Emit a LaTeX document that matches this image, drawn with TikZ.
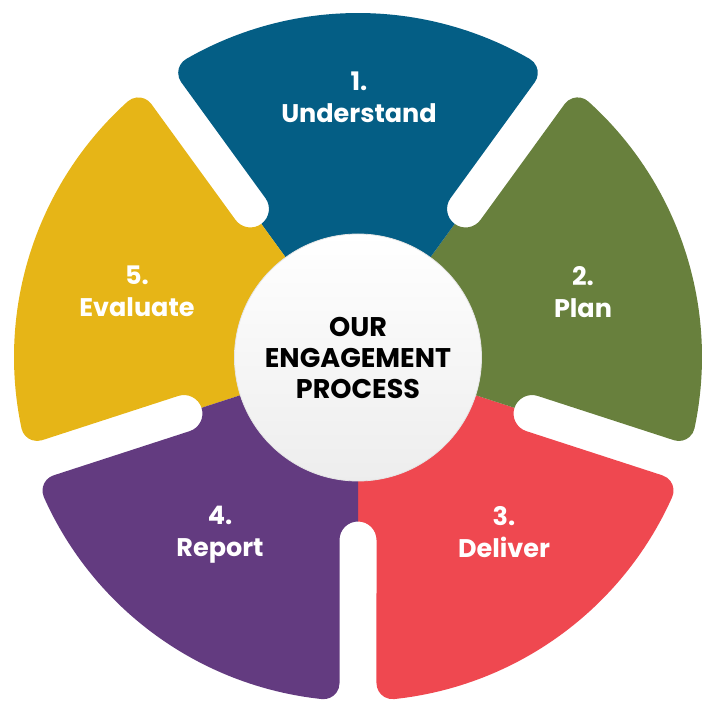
\documentclass[tikz,border=0pt]{standalone}
\usepackage{fontspec}
\setmainfont{Poppins}
\definecolor{cblue}{HTML}{045E85}
\definecolor{cgreen}{HTML}{68803D}
\definecolor{cred}{HTML}{EF4850}
\definecolor{cpurple}{HTML}{633B80}
\definecolor{cyellow}{HTML}{E6B517}
\tikzset{
  lbl/.style={text=white, font=\bfseries\fontsize{25.5}{32}\selectfont, align=center, inner sep=0pt},
  hub/.style={circle, minimum size=247pt, inner sep=0pt, top color=white, bottom color=black!7, draw=black!10, line width=0.8pt},
  hubtext/.style={text=black, font=\bfseries\fontsize{27}{31}\selectfont, align=center, inner sep=0pt}
}
\begin{document}
\begin{tikzpicture}[x=1pt,y=1pt]
\useasboundingbox (-358,-351) rectangle (356,357);
\foreach \aa/\bb/\col in {-90/-18/cred, -18/54/cgreen, 54/126/cblue, 126/198/cyellow, 198/270/cpurple}{
  \fill[\col] (0,0) -- (\aa:164.5)
    arc[start angle=\aa+180, end angle=\aa+90, radius=18.5]
    -- ({\aa+3.246}:326.70)
    arc[start angle=\aa-90, end angle=\aa+6.038, radius=16]
    arc[start angle=\aa+6.038, end angle=\bb-6.038, radius=344]
    arc[start angle=\bb-6.038, end angle=\bb+90, radius=16]
    -- ({\bb-5.773}:183.93)
    arc[start angle=\bb-90, end angle=\bb-180, radius=18.5]
    -- cycle;
}
\node[hub] (hubc) at (0,-0.5) {};
\node[hubtext] (title) at (0,-1) {OUR\\ENGAGEMENT\\PROCESS};
\node[lbl] (s1) at (1,260) {1.\\Understand};
\node[lbl] (s2) at (225,65) {2.\\Plan};
\node[lbl] (s3) at (146,-175) {3.\\Deliver};
\node[lbl] (s4) at (-138,-178) {4.\\Report};
\node[lbl] (s5) at (-221,66) {5.\\Evaluate};
\end{tikzpicture}
\end{document}
